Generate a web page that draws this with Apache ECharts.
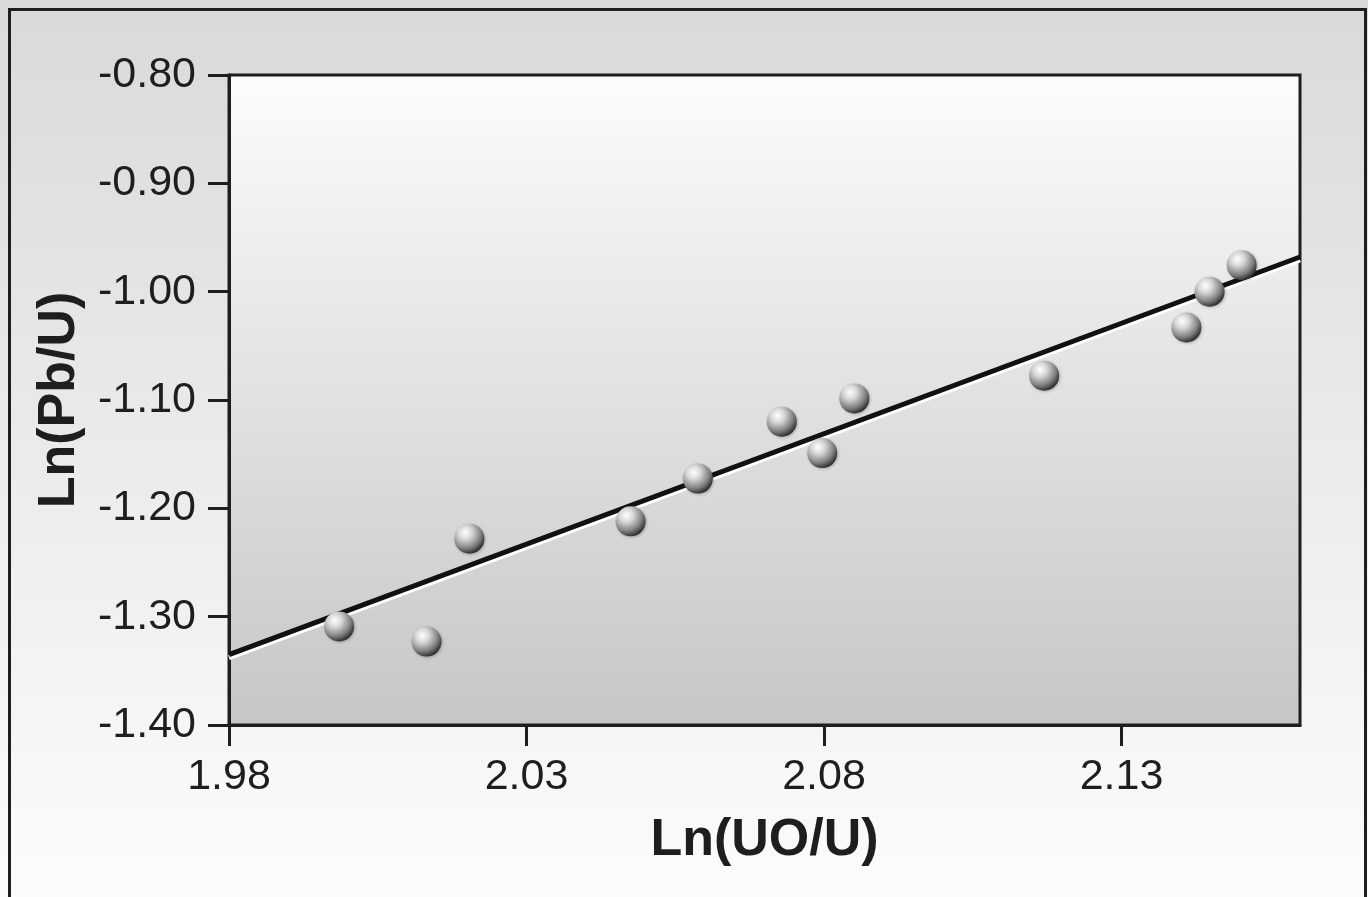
<!DOCTYPE html>
<html>
<head>
<meta charset="utf-8">
<script src="https://cdn.jsdelivr.net/npm/echarts@6/dist/echarts.min.js"></script>
<style>
  html, body { margin: 0; padding: 0; }
  #chart { width: 1368px; height: 897px; }
</style>
</head>
<body>
<div id="chart"></div>
<script>
// measured points, Ln(UO/U) vs Ln(Pb/U)
const lnUO = [1.9985, 2.0132, 2.0204, 2.0475, 2.0588, 2.0729, 2.0797, 2.0851, 2.1170, 2.1409, 2.1448, 2.1502];
const lnPb = [-1.309, -1.323, -1.228, -1.212, -1.1725, -1.120, -1.149, -1.0985, -1.0775, -1.033, -1.000, -0.9755];
// fitted line end points
const fitX = [1.98, 2.16];
const fitY = [-1.335, -0.968];
// tick labels
const xTicks = [1.98, 2.03, 2.08, 2.13];
const yTicks = [-1.4, -1.3, -1.2, -1.1, -1.0, -0.9, -0.8];

const sphere = new echarts.graphic.RadialGradient(0.36, 0.3, 0.75, [
  { offset: 0, color: "#ffffff" },
  { offset: 0.3, color: "#d8d8d8" },
  { offset: 0.7, color: "#808080" },
  { offset: 1, color: "#222222" },
]);

const font = "'Liberation Sans', Arial, sans-serif";

const option = {
  backgroundColor: new echarts.graphic.LinearGradient(0, 0, 0, 1, [
    { offset: 0, color: "#d9d9d9" },
    { offset: 1, color: "#fcfcfc" },
  ]),
  animation: false,
  graphic: [
    {
      type: "rect",
      silent: true,
      shape: { x: 9.5, y: 9.5, width: 1356, height: 900 },
      style: { fill: "none", stroke: "#1e1e1e", lineWidth: 3 },
    },
  ],
  grid: {
    left: 229,
    right: 68,
    top: 75,
    bottom: 172,
    show: true,
    borderColor: "#1e1e1e",
    borderWidth: 3,
    backgroundColor: new echarts.graphic.LinearGradient(0, 0, 0, 1, [
      { offset: 0, color: "#fcfcfc" },
      { offset: 1, color: "#c6c6c6" },
    ]),
  },
  xAxis: {
    type: "value",
    min: 1.98,
    max: 2.16,
    name: "Ln(UO/U)",
    nameLocation: "middle",
    nameGap: 90,
    nameTextStyle: { fontFamily: font, fontSize: 52, fontWeight: "bold", color: "#1e1e1e" },
    splitLine: { show: false },
    axisLine: { lineStyle: { color: "#1e1e1e", width: 3 } },
    axisTick: { show: true, length: 21, customValues: xTicks, lineStyle: { color: "#1e1e1e", width: 3 } },
    axisLabel: {
      customValues: xTicks,
      margin: 31,
      fontFamily: font,
      fontSize: 43,
      color: "#1e1e1e",
      formatter: (v) => v.toFixed(2),
    },
  },
  yAxis: {
    type: "value",
    min: -1.4,
    max: -0.8,
    name: "Ln(Pb/U)",
    nameLocation: "middle",
    nameGap: 143,
    nameTextStyle: { fontFamily: font, fontSize: 52, fontWeight: "bold", color: "#1e1e1e" },
    splitLine: { show: false },
    axisLine: { show: true, lineStyle: { color: "#1e1e1e", width: 3 } },
    axisTick: { show: true, length: 21, customValues: yTicks, lineStyle: { color: "#1e1e1e", width: 3 } },
    axisLabel: {
      customValues: yTicks,
      margin: 33,
      fontFamily: font,
      fontSize: 43,
      color: "#1e1e1e",
      formatter: (v) => v.toFixed(2),
    },
  },
  series: [
    {
      type: "line",
      data: fitX.map((x, i) => [x, fitY[i]]),
      symbol: "none",
      z: 2,
      lineStyle: {
        color: "#111",
        width: 5,
        shadowColor: "#ffffff",
        shadowBlur: 0,
        shadowOffsetY: 3,
      },
    },
    {
      type: "scatter",
      data: lnUO.map((x, i) => [x, lnPb[i]]),
      symbolSize: 30,
      z: 3,
      itemStyle: {
        color: sphere,
        opacity: 1,
        shadowColor: "rgba(0,0,0,0.25)",
        shadowBlur: 3,
        shadowOffsetX: 1,
        shadowOffsetY: 1,
      },
    },
  ],
};

const myChart = echarts.init(document.getElementById("chart"));
myChart.setOption(option);
</script>
</body>
</html>
